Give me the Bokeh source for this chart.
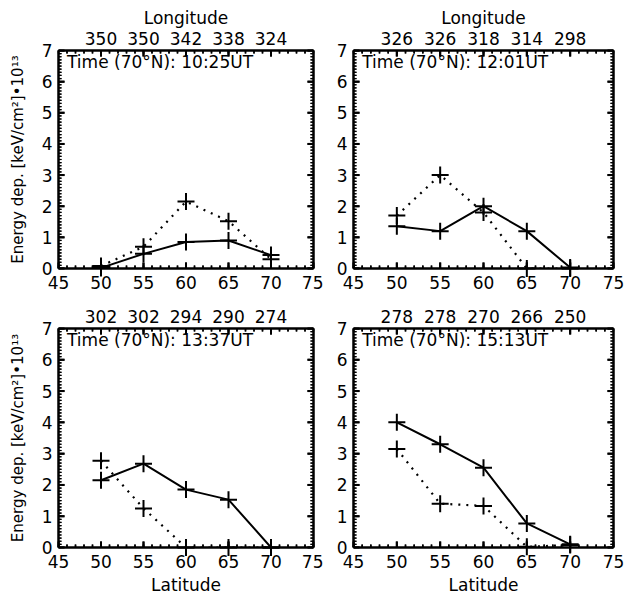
import math
from bokeh.plotting import figure
from bokeh.layouts import column, row
from bokeh.models import Range1d, LinearAxis, FixedTicker, Label, CustomJSTickFormatter
from bokeh.embed import file_html
from bokeh.resources import INLINE

# ---- data ----
latitude = [50, 55, 60, 65, 70]
time_labels = ["10:25UT", "12:01UT", "13:37UT", "15:13UT"]
lon_p1 = ["350", "350", "342", "338", "324"]
lon_p2 = ["326", "326", "318", "314", "298"]
lon_p3 = ["302", "302", "294", "290", "274"]
lon_p4 = ["278", "278", "270", "266", "250"]
solid_p1 = [0.02, 0.47, 0.85, 0.90, 0.43]
solid_p2 = [1.36, 1.20, 2.00, 1.20, 0.03]
solid_p3 = [2.15, 2.68, 1.85, 1.53, 0.00]
solid_p4 = [4.00, 3.30, 2.55, 0.77, 0.10]
dotted_p1 = [0.08, 0.70, 2.15, 1.52, 0.30]
dotted_p2 = [1.70, 3.00, 1.80, 0.00, 0.00]
dotted_p3 = [2.77, 1.25, 0.00, 0.00, 0.00]
dotted_p4 = [3.15, 1.40, 1.33, 0.02, 0.08]
x_ticks = [45, 50, 55, 60, 65, 70, 75]
y_ticks = [0, 1, 2, 3, 4, 5, 6, 7]
X0, X1, Y0, Y1 = 45, 75, 0, 7

FONT = "DejaVu Sans"
TICK_FS = "17px"
YLABEL = "Energy dep. [keV/cm\u00b2]\u202210\u00b9\u00b3"
MAJOR_PX, MINOR_PX = 6, 3


def style_axis(ax):
    ax.axis_line_width = 2
    ax.axis_line_color = "black"
    ax.major_tick_line_color = None
    ax.minor_tick_line_color = None
    ax.major_label_text_font = FONT
    ax.major_label_text_font_size = TICK_FS
    ax.major_label_text_color = "black"
    ax.axis_label_text_font = FONT
    ax.axis_label_text_font_size = TICK_FS
    ax.axis_label_text_font_style = "normal"
    ax.axis_label_text_color = "black"


def panel(solid, dotted, lon, tlabel, width, height, mb_left, mb_right, mb_top, mb_bottom,
          ylab, xlab, lonlab):
    p = figure(width=width, height=height, output_backend="svg", toolbar_location=None,
               x_range=Range1d(X0, X1), y_range=Range1d(Y0, Y1),
               x_axis_location=None, y_axis_location=None,
               min_border_left=mb_left, min_border_right=mb_right,
               min_border_top=mb_top, min_border_bottom=mb_bottom)
    p.xgrid.visible = False
    p.ygrid.visible = False
    p.outline_line_color = "black"
    p.outline_line_width = 2
    p.background_fill_color = "white"
    p.border_fill_color = "white"

    frame_w = width - mb_left - mb_right
    frame_h = height - mb_top - mb_bottom
    dx = (X1 - X0) / frame_w
    dy = (Y1 - Y0) / frame_h

    xminor = [float(v) for v in range(X0, X1 + 1)]
    yminor = [i / 10 for i in range(Y0 * 10, Y1 * 10 + 1)]

    bottom = LinearAxis(ticker=FixedTicker(ticks=x_ticks))
    style_axis(bottom)
    bottom.major_label_standoff = 1
    if xlab:
        bottom.axis_label = "Latitude"
        bottom.axis_label_standoff = 4
    p.add_layout(bottom, "below")

    top = LinearAxis(ticker=FixedTicker(ticks=latitude),
                     major_label_overrides={lat: s for lat, s in zip(latitude, lon)})
    style_axis(top)
    top.major_label_standoff = 0
    if lonlab:
        top.axis_label = "Longitude"
        top.axis_label_standoff = 1
    p.add_layout(top, "above")

    left = LinearAxis(ticker=FixedTicker(ticks=y_ticks))
    style_axis(left)
    left.major_label_standoff = 0
    if ylab:
        left.axis_label = YLABEL
        left.axis_label_standoff = 12
        left.axis_label_text_font_size = "15px"
    p.add_layout(left, "left")

    right = LinearAxis(ticker=FixedTicker(ticks=y_ticks),
                       formatter=CustomJSTickFormatter(code="return ''"))
    style_axis(right)
    right.major_label_standoff = 0
    p.add_layout(right, "right")

    # inward ticks on all four sides (IDL style); start half a pixel inside the frame
    def vticks(xs, yb, sign, px, w):
        ys = [yb + sign * 0.5 * dy] * len(xs)
        p.segment(x0=xs, y0=ys, x1=xs, y1=[yb + sign * px * dy] * len(xs),
                  line_color="black", line_width=w)
        p.ray(x=xs, y=ys, length=px - 0.5, length_units="screen",
              angle=sign * math.pi / 2, line_color="black", line_width=w, level="overlay")

    def hticks(ys, xb, sign, px, w):
        xs = [xb + sign * 0.5 * dx] * len(ys)
        p.segment(x0=xs, y0=ys, x1=[xb + sign * px * dx] * len(ys), y1=ys,
                  line_color="black", line_width=w)
        p.ray(x=xs, y=ys, length=px - 0.5, length_units="screen",
              angle=0 if sign > 0 else math.pi, line_color="black", line_width=w,
              level="overlay")

    vticks(xminor, Y0, 1, MINOR_PX, 1.5)
    vticks(x_ticks, Y0, 1, MAJOR_PX, 2)
    vticks(xminor, Y1, -1, MINOR_PX, 1.5)
    vticks(latitude, Y1, -1, MAJOR_PX, 2)
    hticks(yminor, X0, 1, MINOR_PX, 1.2)
    hticks(y_ticks, X0, 1, MAJOR_PX, 2)
    hticks(yminor, X1, -1, MINOR_PX, 1.2)
    hticks(y_ticks, X1, -1, MAJOR_PX, 2)

    p.line(latitude, solid, line_color="black", line_width=2)
    p.line(latitude, dotted, line_color="black", line_width=2.2, line_dash="2 6")
    p.scatter(latitude, solid, marker="cross", size=17, line_color="black", line_width=2,
              level="overlay")
    p.scatter(latitude, dotted, marker="cross", size=17, line_color="black", line_width=2,
              level="overlay")

    p.add_layout(Label(x=46.0, y=6.62, text="Time (70\u00b0N): " + tlabel,
                       text_font=FONT, text_font_size=TICK_FS, text_baseline="middle",
                       text_color="black"))
    return p


p1 = panel(solid_p1, dotted_p1, lon_p1, time_labels[0], 323, 296, 58, 10, 50, 28, True, False, True)
p2 = panel(solid_p2, dotted_p2, lon_p2, time_labels[1], 309, 296, 30, 19, 50, 28, False, False, True)
p3 = panel(solid_p3, dotted_p3, lon_p3, time_labels[2], 323, 305, 58, 10, 32, 54, True, True, False)
p4 = panel(solid_p4, dotted_p4, lon_p4, time_labels[3], 309, 305, 30, 19, 32, 54, False, True, False)

layout = column(row(p1, p2), row(p3, p4))
open("out.html", "w").write(file_html(layout, INLINE))
